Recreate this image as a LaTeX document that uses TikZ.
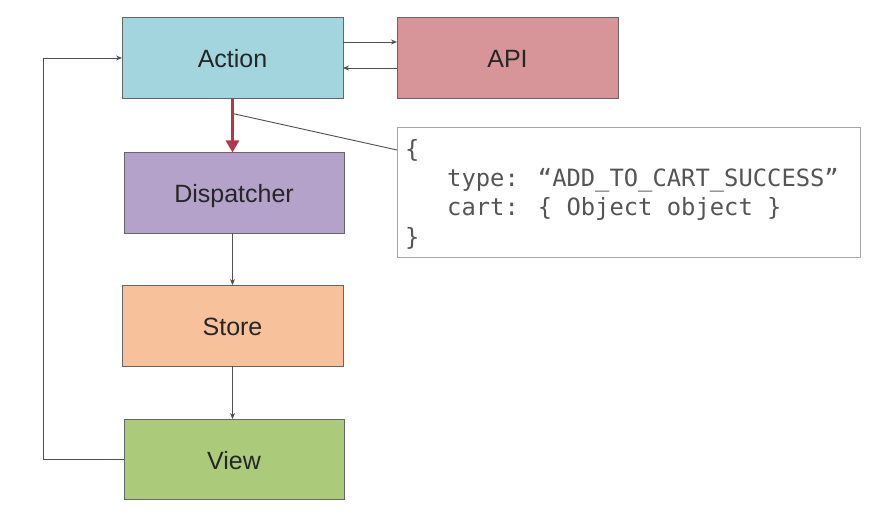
\documentclass[tikz,border=0pt]{standalone}
\usepackage{fontspec}
\setmainfont{Liberation Sans}
\newfontfamily\codefont{DejaVu Sans Mono}
\usetikzlibrary{arrows.meta,calc}
\definecolor{cAction}{HTML}{A3D5DF}
\definecolor{cApi}{HTML}{D79499}
\definecolor{cDisp}{HTML}{B4A2CB}
\definecolor{cStore}{HTML}{F6C19B}
\definecolor{cView}{HTML}{ABCB7A}
\definecolor{cRed}{HTML}{B5364A}
\definecolor{cLine}{HTML}{505050}
\definecolor{cBorder}{HTML}{666666}
\definecolor{cCode}{HTML}{555555}
\tikzset{
  flowbox/.style={draw=cBorder, line width=0.9pt, minimum width=221pt, minimum height=81pt,
    inner sep=0pt, outer sep=0pt, text height=20pt, text depth=0pt,
    font=\fontsize{25}{30}\selectfont, text=black!85},
  arr/.style={draw=cLine, line width=0.9pt, -{Stealth[length=6pt,width=5pt]}},
  redarr/.style={draw=cRed, line width=2.6pt, -{Triangle[length=12pt,width=13pt]}},
  thinline/.style={draw=cLine, line width=0.9pt},
  codeline/.style={anchor=base west, inner sep=0pt, text=cCode, font=\codefont\fontsize{23.8}{29}\selectfont},
}
\begin{document}
\begin{tikzpicture}[x=1pt,y=-1pt]
\useasboundingbox[fill=white] (0,0) rectangle (878,513);
\node[flowbox, fill=cAction] (action) at (232.5,58) {Action};
\node[flowbox, fill=cApi] (api) at (507.5,58) {API};
\node[flowbox, fill=cDisp, minimum width=220pt] (disp) at (234,193) {Dispatcher};
\node[flowbox, fill=cStore] (store) at (232.5,325.5) {Store};
\node[flowbox, fill=cView, minimum width=220pt, minimum height=80pt] (view) at (234,459) {View};
\node[draw=black!35, line width=0.9pt, minimum width=463pt, minimum height=130pt, inner sep=0pt, outer sep=0pt] (code) at (628.5,192) {};
\node[codeline] (c1) at (405,158) {\{};
\node[codeline] (c2) at (447,187) {type: “ADD\_TO\_CART\_SUCCESS”};
\node[codeline] (c3) at (447,216) {cart: \{ Object object \}};
\node[codeline] (c4) at (405,245) {\}};
% connectors
\draw[arr] ([yshift=16pt]action.east) -- ([yshift=16pt]api.west);
\draw[arr] ([yshift=-10pt]api.west) -- ([yshift=-10pt]action.east);
\coordinate (cp) at ($(action.south)+(0,15)$);
\draw[thinline] (cp) -- ([yshift=-23pt]code.north west);
\draw[redarr] (action.south) -- (action.south |- disp.north);
\draw[arr] (disp.south -| store.north) -- (store.north);
\draw[arr] (store.south) -- (store.south |- view.north);
\coordinate (fb) at (43,459);
\draw[arr] (view.west) -- (fb) |- (action.west);
\end{tikzpicture}
\end{document}
